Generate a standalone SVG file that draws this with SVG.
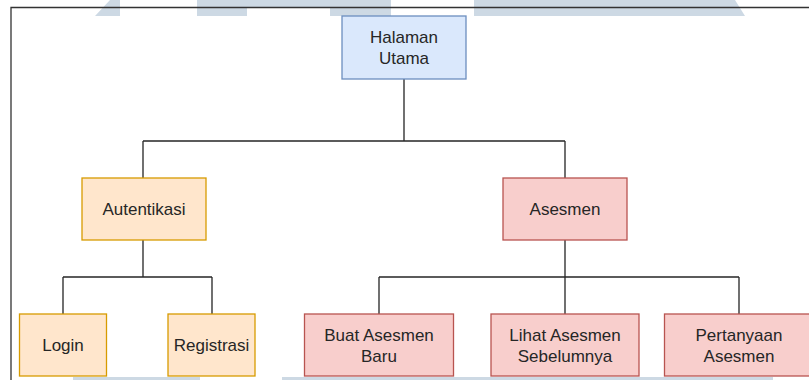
<svg xmlns="http://www.w3.org/2000/svg" width="809" height="380" viewBox="0 0 809 380">
<style>
.wm{fill:#cdd9e4;stroke:none}
.frame{fill:none;stroke:#333;stroke-width:1.3}
.blue{fill:#dae8fc;stroke:#6c8ebf;stroke-width:1.3}
.orange{fill:#ffe6cc;stroke:#d79b00;stroke-width:1.3}
.red{fill:#f8cecc;stroke:#b85450;stroke-width:1.3}
.lbl{font-family:"Liberation Sans",Arial,sans-serif;font-size:17px;fill:#262626;text-anchor:middle}
.edge{fill:none;stroke:#262626;stroke-width:1.3}
</style>
<rect width="809" height="380" fill="#ffffff"/>
<g id="watermark">
<polygon class="wm" points="110,0 120,0 120,16 95,16"/>
<polygon class="wm" points="197,0 391,0 391,16 330,16 330,7 247,7 247,16 197,16"/>
<polygon class="wm" points="474,0 735,0 745,16 474,16"/>
<rect class="wm" x="73" y="377" width="127" height="3"/>
<rect class="wm" x="282" y="377" width="491" height="3"/>
</g>
<path class="frame" d="M809,7.5 H11 V380"/>
<g id="connectors">
<path class="edge" d="M404,79 V141 M143,141 H565 M143,178 V141 M565,178 V141"/>
<path class="edge" d="M143,240 V277 M63,277 H212 M63,314 V277 M212,314 V277"/>
<path class="edge" d="M565,240 V277 M379,277 H739 M379,314 V277 M565,314 V277 M739,314 V277"/>
</g>
<g id="halaman-utama">
<rect class="blue" x="342" y="16" width="124" height="63"/>
<text class="lbl" x="404" y="43">Halaman</text>
<text class="lbl" x="404" y="64">Utama</text>
</g>
<g id="autentikasi">
<rect class="orange" x="82" y="178" width="124" height="62"/>
<text class="lbl" x="144" y="215">Autentikasi</text>
</g>
<g id="asesmen">
<rect class="red" x="503" y="178" width="124" height="62"/>
<text class="lbl" x="565" y="215">Asesmen</text>
</g>
<g id="login">
<rect class="orange" x="19.5" y="314" width="87" height="62"/>
<text class="lbl" x="63" y="351">Login</text>
</g>
<g id="registrasi">
<rect class="orange" x="168" y="314" width="87" height="62"/>
<text class="lbl" x="211.5" y="351">Registrasi</text>
</g>
<g id="buat-asesmen-baru">
<rect class="red" x="304.5" y="314" width="149" height="62"/>
<text class="lbl" x="379" y="340.5">Buat Asesmen</text>
<text class="lbl" x="379" y="361.5">Baru</text>
</g>
<g id="lihat-asesmen-sebelumnya">
<rect class="red" x="491" y="314" width="148" height="62"/>
<text class="lbl" x="565" y="340.5">Lihat Asesmen</text>
<text class="lbl" x="565" y="361.5">Sebelumnya</text>
</g>
<g id="pertanyaan-asesmen">
<rect class="red" x="664.5" y="314" width="149" height="62"/>
<text class="lbl" x="739" y="340.5">Pertanyaan</text>
<text class="lbl" x="739" y="361.5">Asesmen</text>
</g>
</svg>
